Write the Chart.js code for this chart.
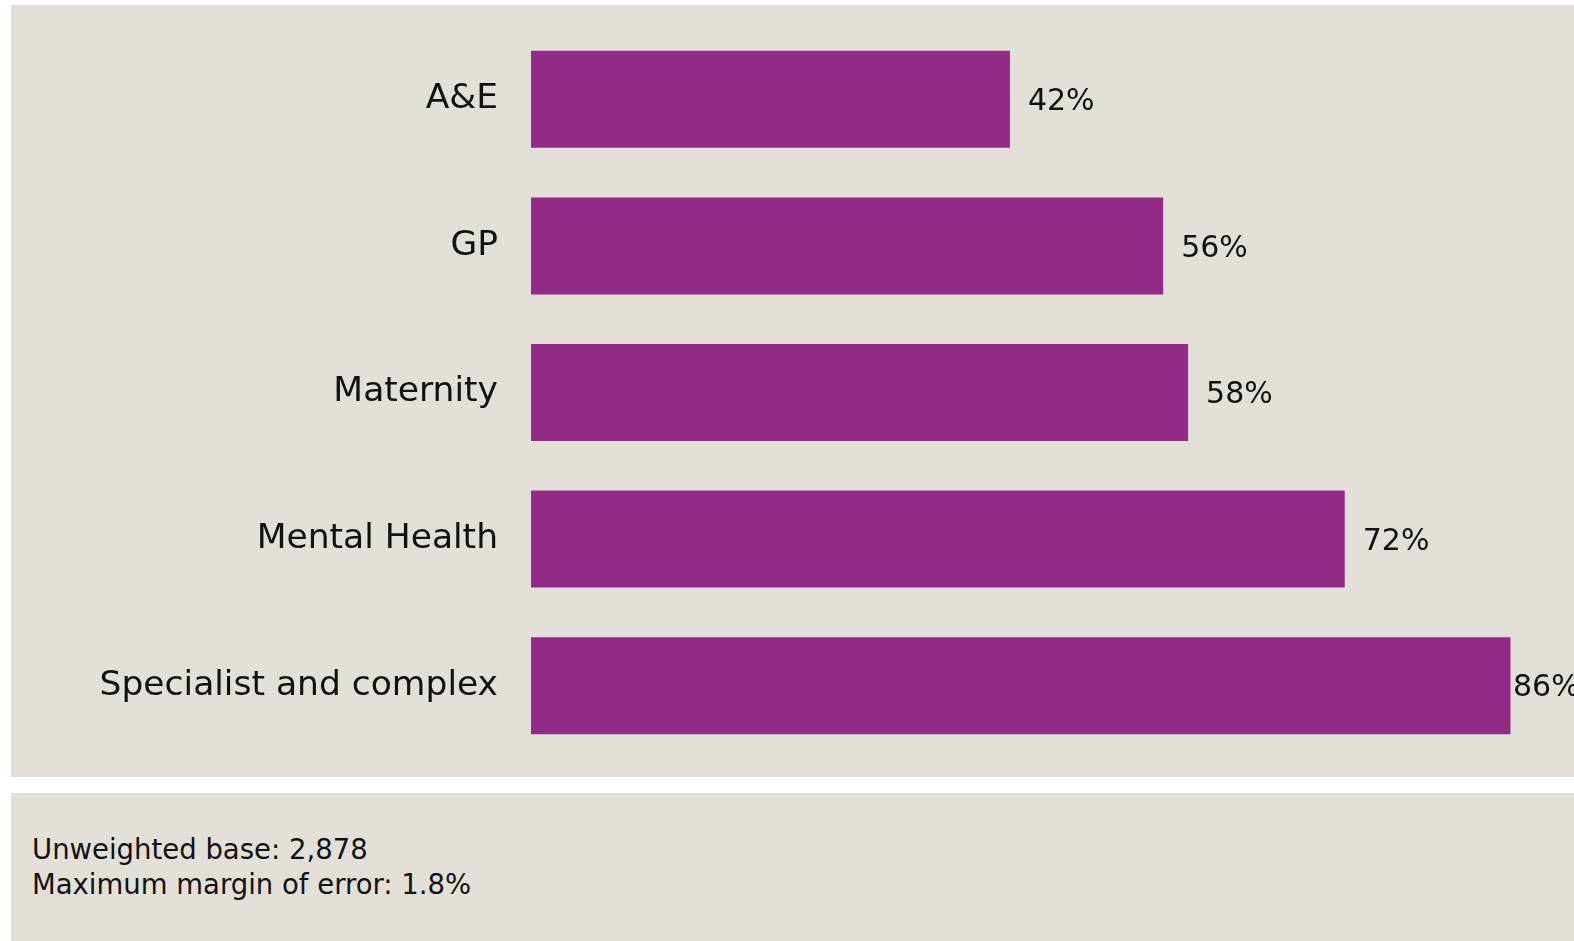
<!DOCTYPE html>
<html>
<head>
    <title>Service ratings</title>
    <style>
        body {
            margin: 0;
            background: #ffffff;
            font-family: "DejaVu Sans", sans-serif;
            color: #111;
        }
        .panel {
            position: absolute;
            left: 11px;
            width: 1563px;
            background-color: #e2dfd8;
        }
        #chartPanel {
            top: 5px;
            height: 772px;
        }
        #chartPanel canvas {
            display: block;
        }
        #notePanel {
            top: 793px;
            height: 148px;
        }
        .note {
            position: absolute;
            left: 21px;
            top: 39px;
            font-size: 27.5px;
            line-height: 35px;
            color: #111;
        }
    </style>
    <script src="https://cdn.jsdelivr.net/npm/chart.js"></script>
</head>
<body>
    <div class="panel" id="chartPanel">
        <canvas id="barChart" width="1563" height="772"></canvas>
    </div>
    <div class="panel" id="notePanel">
        <div class="note">Unweighted base: 2,878<br>Maximum margin of error: 1.8%</div>
    </div>

    <script>
        const categories = ['A&E', 'GP', 'Maternity', 'Mental Health', 'Specialist and complex'];
        const values = [42.2, 55.7, 57.9, 71.7, 86.3];
        const valueLabels = ['42%', '56%', '58%', '72%', '86%'];

        const barColor = '#922b87';
        const fontFamily = '"DejaVu Sans", sans-serif';

        // writes the percentage just past the end of each bar,
        // pulled in a bit when it would run off the right edge
        const valueLabelPlugin = {
            id: 'valueLabels',
            afterDatasetsDraw(chart) {
                const ctx = chart.ctx;
                const meta = chart.getDatasetMeta(0);
                ctx.save();
                ctx.font = '30px ' + fontFamily;
                ctx.fillStyle = '#111';
                ctx.textAlign = 'left';
                ctx.textBaseline = 'middle';
                meta.data.forEach((bar, i) => {
                    const x = Math.min(bar.x + 18, chart.width - 61);
                    ctx.fillText(valueLabels[i], x, bar.y + 3);
                });
                ctx.restore();
            }
        };

        new Chart(document.getElementById('barChart').getContext('2d'), {
            type: 'bar',
            data: {
                labels: categories,
                datasets: [{
                    data: values,
                    backgroundColor: barColor,
                    borderWidth: 0,
                    categoryPercentage: 1,
                    barPercentage: 0.662
                }]
            },
            options: {
                indexAxis: 'y',
                responsive: false,
                animation: false,
                layout: {
                    padding: { top: 21, bottom: 18, left: 0, right: 0 }
                },
                scales: {
                    x: {
                        min: 0,
                        max: 91.9,
                        display: false
                    },
                    y: {
                        grid: { display: false, drawTicks: false },
                        border: { display: false },
                        ticks: {
                            padding: 33,
                            color: '#111',
                            font: { family: fontFamily, size: 34.5 }
                        },
                        afterFit(scale) {
                            scale.width = 520;
                            scale.paddingTop = 0;
                            scale.paddingBottom = 0;
                        }
                    }
                },
                plugins: {
                    legend: { display: false },
                    tooltip: { enabled: false }
                }
            },
            plugins: [valueLabelPlugin]
        });
    </script>
</body>
</html>
